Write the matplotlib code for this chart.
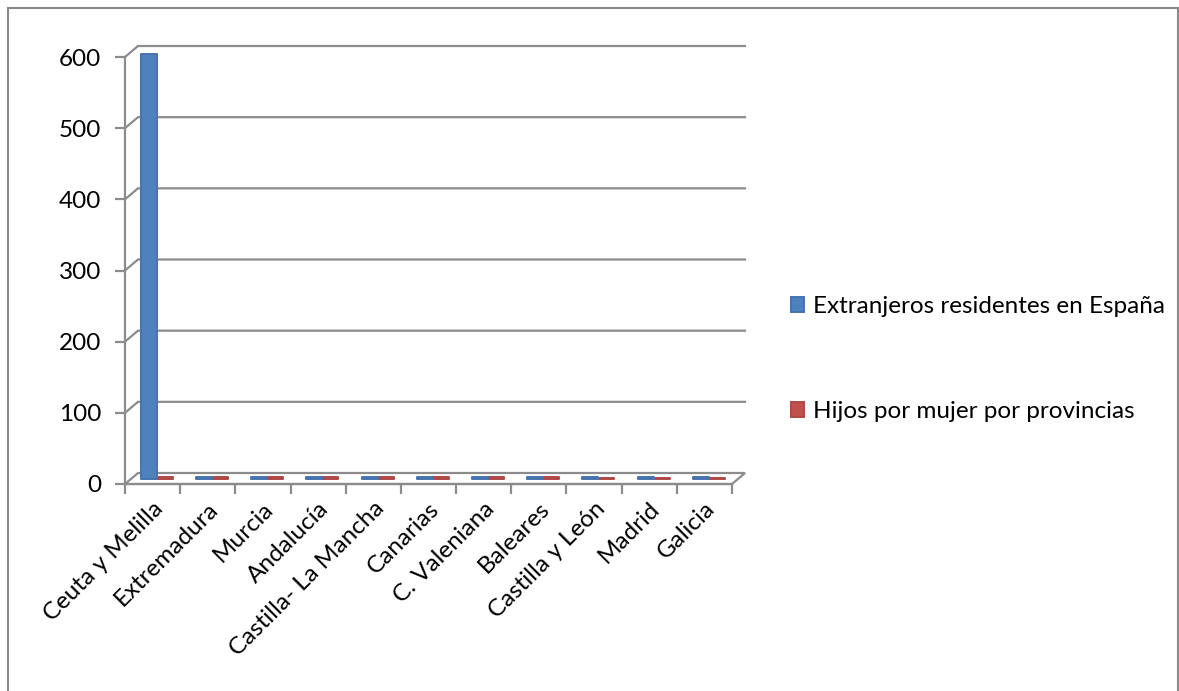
import numpy as np
import matplotlib
matplotlib.use('Agg')
import matplotlib.pyplot as plt
from matplotlib.patches import Rectangle, Polygon

regiones = ['Ceuta y Melilla', 'Extremadura', 'Murcia', 'Andalucía',
            'Castilla- La Mancha', 'Canarias', 'C. Valeniana', 'Baleares',
            'Castilla y León', 'Madrid', 'Galicia']
extranjeros = [596, 1.5, 1.5, 1.5, 1.5, 1.5, 1.5, 1.5, 1.5, 1.5, 1.5]
hijos = [2.0, 1.8, 1.7, 1.7, 1.6, 1.5, 1.5, 1.5, 1.4, 1.4, 1.4]
yticks = [0, 100, 200, 300, 400, 500, 600]

azul = '#4F81BD'
rojo = '#C0504D'
gris = '#8C8C8C'

plt.rcParams['font.family'] = ['Lato', 'DejaVu Sans']

fig = plt.figure(figsize=(11.79, 6.91), dpi=100)
W, H = 1179, 691
ax = fig.add_axes([125 / W, 207 / H, 607 / W, 427 / H])
ax.set_xlim(0, len(regiones))
ax.set_ylim(0, 600)

# 3d depth offset in data units (13px right, 11px up)
DX = 13 / (607 / len(regiones))
DY = 11 / (427 / 600)

# floor
n = len(regiones)
ax.add_patch(Polygon([(0, 0), (n, 0), (n + DX, DY), (DX, DY)], closed=True,
                     facecolor='white', edgecolor=gris, lw=1.6, clip_on=False, zorder=1))

# back wall gridlines
for y in yticks[1:]:
    ax.plot([0, DX, n + DX], [y, y + DY, y + DY], color=gris, lw=1.6,
            clip_on=False, zorder=1, solid_joinstyle='miter')

x = np.arange(n) + 0.5 + DX / 2 - 0.04
w = 0.29
ax.bar(x - w / 2, extranjeros, width=w, bottom=DY / 2, color=azul,
       edgecolor='#4574AE', lw=1.4, joinstyle='round', clip_on=False, zorder=3,
       label='Extranjeros residentes en España')
ax.bar(x + w / 2, hijos, width=w, bottom=DY / 2, color=rojo,
       edgecolor='#B04845', lw=1.4, joinstyle='round', clip_on=False, zorder=2,
       label='Hijos por mujer por provincias')

for s in ['top', 'right']:
    ax.spines[s].set_visible(False)
for s in ['left', 'bottom']:
    ax.spines[s].set_color(gris)
    ax.spines[s].set_linewidth(1.6)

fs = 17.5
ax.set_yticks(yticks)
ax.set_yticklabels([str(v) for v in yticks], fontsize=fs)
ax.set_xticks(np.arange(n + 1), minor=True)
ax.set_xticks(np.arange(n) + 0.5)
ax.set_xticklabels(regiones, rotation=45, ha='right', va='top',
                   rotation_mode='anchor', fontsize=fs)
ax.tick_params(axis='x', which='major', length=0, pad=10)
ax.tick_params(axis='x', which='minor', length=7, width=1.6, color=gris)
ax.tick_params(axis='y', length=7, width=1.6, color=gris, pad=10)
ax.set_facecolor('none')

fig.legend(loc='center left', bbox_to_anchor=(791 / W, 1 - 359 / H),
           frameon=False, fontsize=fs, handlelength=0.55, handleheight=0.55,
           handletextpad=0.35, labelspacing=3.45, borderpad=0, borderaxespad=0)

# outer chart border
fig.add_artist(Rectangle((8 / W, -0.05), (1178 - 8) / W, 1.05 - 8 / H,
                         transform=fig.transFigure, fill=False,
                         edgecolor='#8A8A8A', lw=1.5))

fig.savefig('out.png', dpi=100)
